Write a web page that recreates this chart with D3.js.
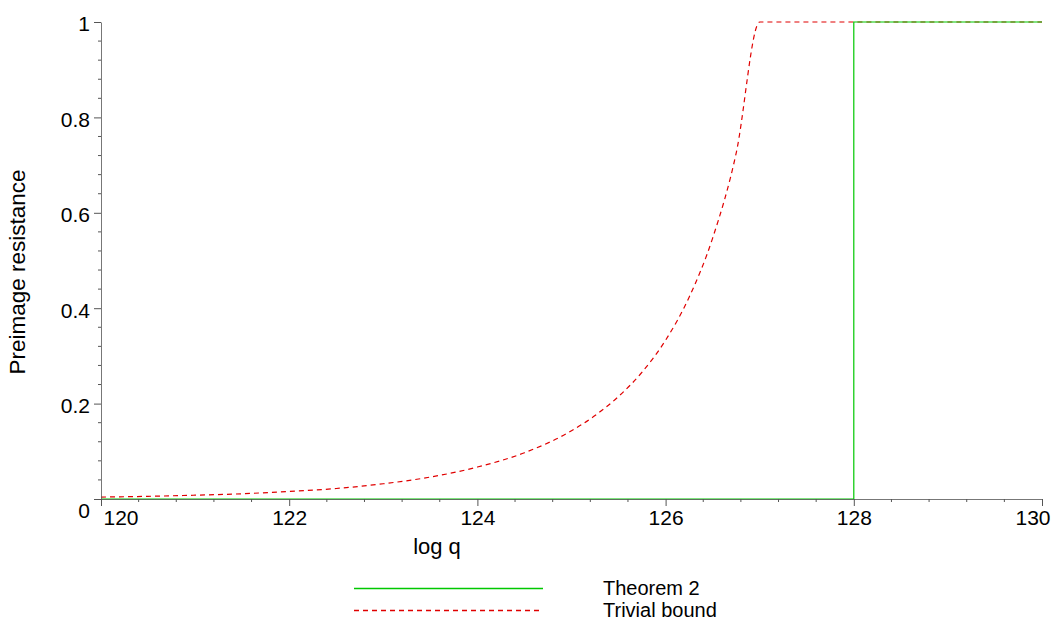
<!DOCTYPE html>
<html>
<head>
<meta charset="utf-8">
<script src="https://cdn.jsdelivr.net/npm/d3@7"></script>
<style>
  body { margin: 0; background: #fff; }
  text { font-family: "Liberation Sans", Arial, sans-serif; }
</style>
</head>
<body>
<script>
// log q values and the two curves
const logQ = [120, 120.5, 121, 121.5, 122, 122.5, 123, 123.5, 124, 124.5, 125, 125.25,
              125.5, 125.75, 126, 126.25, 126.5, 126.75, 127, 128, 129, 130];
const trivialBound = [0.004, 0.0056, 0.008, 0.011, 0.016, 0.022, 0.032, 0.046, 0.067, 0.097, 0.143, 0.175,
                      0.215, 0.266, 0.333, 0.423, 0.547, 0.725, 1, 1, 1, 1];
const theoremX = [120, 128, 128, 130];
const theoremY = [0, 0, 1, 1];

const xTicks = [120, 122, 124, 126, 128, 130];
const yTicks = [0, 0.2, 0.4, 0.6, 0.8, 1];
const seriesNames = ["Theorem 2", "Trivial bound"];

var config = {
    width: 1061,
    height: 621,
    left: 101, right: 1042, top: 22, bottom: 499
};

const svg = d3.select("body").append("svg")
    .attr("width", config.width)
    .attr("height", config.height);

const x = d3.scaleLinear().domain([120, 130]).range([config.left, config.right]);
const y = d3.scaleLinear().domain([0, 1]).range([config.bottom, config.top]);

const green = "#00c800";
const red = "#e00000";
const axisColor = "#555";

// curves
const line = d3.line().x(d => x(d[0])).y(d => y(d[1]));

svg.append("path")
    .datum(d3.zip(logQ, trivialBound))
    .attr("fill", "none")
    .attr("stroke", red)
    .attr("stroke-width", 1.2)
    .attr("stroke-dasharray", "5,4")
    .attr("d", d3.line().x(d => x(d[0])).y(d => y(d[1])).curve(d3.curveMonotoneX));

svg.append("path")
    .datum(d3.zip(theoremX, theoremY))
    .attr("fill", "none")
    .attr("stroke", green)
    .attr("stroke-width", 1.2)
    .attr("d", line);

// minor ticks
const xMinor = d3.range(120, 130.001, 0.4).filter(v => !xTicks.some(t => Math.abs(t - v) < 1e-6));
const yMinor = d3.range(0, 1.0001, 0.04).filter(v => !yTicks.some(t => Math.abs(t - v) < 1e-6));

// X axis
const gx = svg.append("g")
    .attr("transform", "translate(0," + config.bottom + ")")
    .call(d3.axisBottom(x).tickValues(xTicks).tickFormat(d3.format("d")).tickSize(7).tickSizeOuter(0));
gx.selectAll(".minor")
    .data(xMinor).enter().append("line")
    .attr("class", "minor")
    .attr("x1", d => x(d)).attr("x2", d => x(d))
    .attr("y1", 0).attr("y2", 3);

// Y axis
const gy = svg.append("g")
    .attr("transform", "translate(" + config.left + ",0)")
    .call(d3.axisLeft(y).tickValues(yTicks).tickFormat(d => d === 0 ? "" : String(d)).tickSize(7).tickSizeOuter(0));
gy.selectAll(".minor")
    .data(yMinor).enter().append("line")
    .attr("class", "minor")
    .attr("x1", -3).attr("x2", 0)
    .attr("y1", d => y(d)).attr("y2", d => y(d));

[gx, gy].forEach(g => {
    g.select(".domain").attr("stroke", axisColor).attr("stroke-opacity", 0.8);
    g.selectAll("line").attr("stroke", axisColor);
    g.selectAll("text")
        .attr("fill", "#000")
        .attr("font-size", "21px")
        .attr("font-family", "Liberation Sans, Arial, sans-serif");
});

gx.selectAll("g.tick text").attr("y", 11);
gx.selectAll("g.tick text")
    .filter(d => d === 120).attr("text-anchor", "start").attr("x", 2);
gx.selectAll("g.tick text")
    .filter(d => d === 130).attr("text-anchor", "end").attr("x", 8);
gy.selectAll("g.tick text").attr("x", -11).attr("dy", "0.42em");

// "0" label under the corner
svg.append("text")
    .attr("x", 90).attr("y", 518)
    .attr("text-anchor", "end")
    .attr("font-size", "21px")
    .text("0");

// axis titles
svg.append("text")
    .attr("x", 437).attr("y", 554)
    .attr("text-anchor", "middle")
    .attr("font-size", "22px")
    .text("log q");

svg.append("text")
    .attr("transform", "translate(25,272) rotate(-90)")
    .attr("text-anchor", "middle")
    .attr("font-size", "22.5px")
    .text("Preimage resistance");

// legend
const legend = svg.append("g");
const legendStyle = [
    {color: green, dash: null},
    {color: red, dash: "5,4"}
];
seriesNames.forEach((name, i) => {
    const ly = 588.5 + i * 22;
    legend.append("line")
        .attr("x1", 354).attr("x2", 543)
        .attr("y1", ly).attr("y2", ly)
        .attr("stroke", legendStyle[i].color)
        .attr("stroke-width", 1.3)
        .attr("stroke-dasharray", legendStyle[i].dash);
    legend.append("text")
        .attr("x", 603).attr("y", ly + 6)
        .attr("font-size", "20px")
        .text(name);
});
</script>
</body>
</html>
